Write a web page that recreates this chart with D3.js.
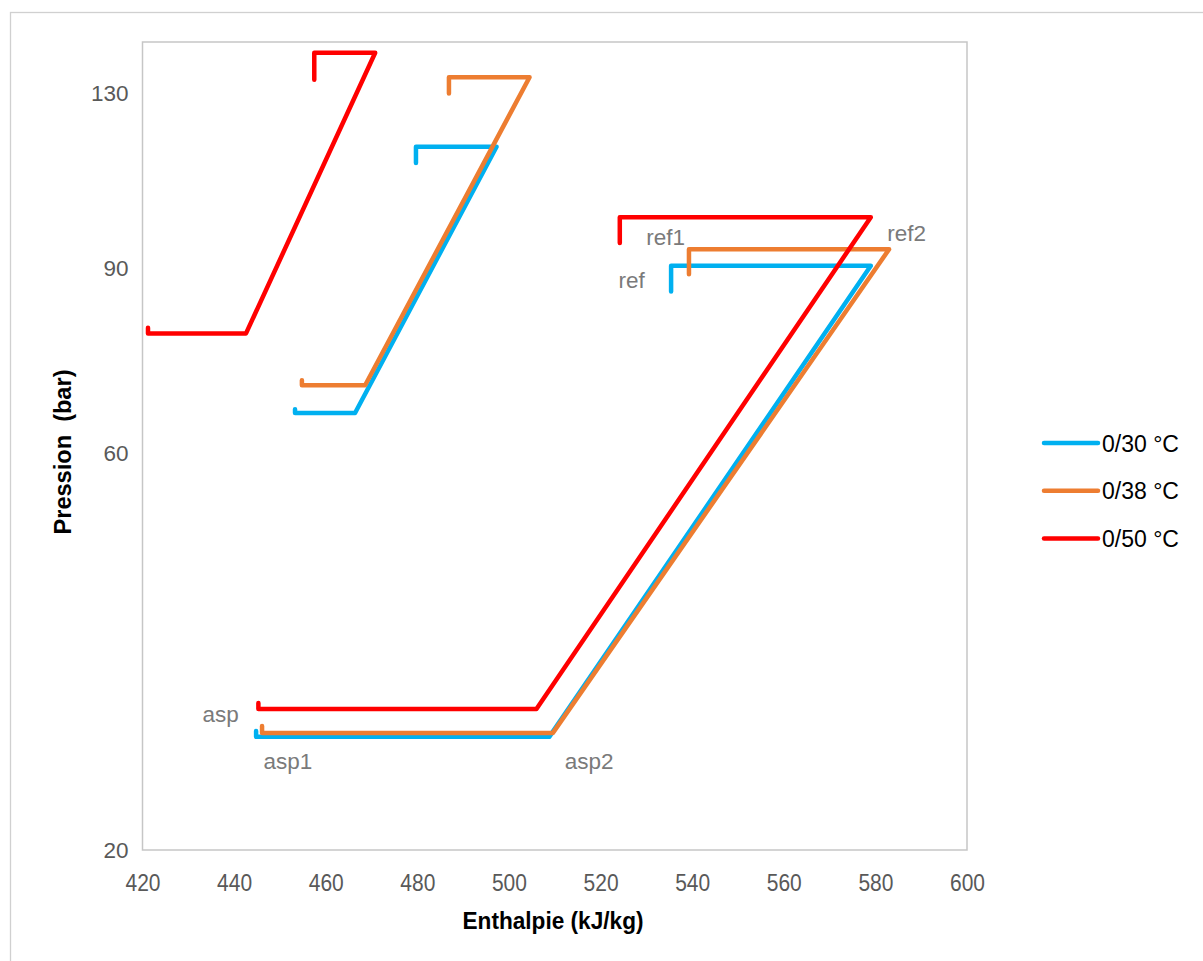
<!DOCTYPE html>
<html>
<head>
<meta charset="utf-8">
<script src="https://cdn.jsdelivr.net/npm/d3@7"></script>
<style>
  html, body { margin: 0; padding: 0; background: #ffffff; }
  svg { display: block; }
</style>
</head>
<body>
<svg id="chart" width="1203" height="961"></svg>
<script>
// ---------------- DATA ----------------
const seriesNames = ["0/30 °C", "0/38 °C", "0/50 °C"];
const seriesColors = ["#00B0F0", "#ED7D31", "#FF0000"];

// Each series: two polylines, points as [enthalpie kJ/kg, pression bar]
const blueUpper  = [[479.7,114.0],[479.7,117.7],[497.3,117.7],[466.4,66.5],[453.3,66.5],[453.3,67.1]];
const blueLower  = [[535.4,86.2],[535.4,90.5],[579.0,90.5],[508.8,31.4],[444.8,31.4],[444.8,32.0]];
const orangeUpper = [[486.9,129.9],[486.9,133.6],[504.5,133.6],[468.6,71.0],[454.8,71.0],[454.8,71.8]];
const orangeLower = [[539.3,89.0],[539.3,94.3],[583.0,94.3],[509.6,31.8],[446.1,31.8],[446.1,32.5]];
const redUpper   = [[457.5,133.0],[457.5,139.2],[470.8,139.2],[442.6,79.4],[421.2,79.4],[421.2,80.3]];
const redLower   = [[524.2,95.7],[524.2,101.6],[579.0,101.6],[506.0,34.2],[445.3,34.2],[445.3,34.8]];

const seriesPaths = [
  [blueUpper, blueLower],
  [orangeUpper, orangeLower],
  [redUpper, redLower]
];

// Point labels: text, enthalpie, pression (label anchor)
const labelTexts = ["ref", "ref1", "ref2", "asp", "asp1", "asp2"];
const labelH     = [523.9, 530.0, 582.6, 433.1, 446.4, 512.2];
const labelP     = [86.8, 95.3, 96.2, 32.9, 28.2, 28.2];

const xTicks = [420, 440, 460, 480, 500, 520, 540, 560, 580, 600];
const yTicks = [20, 60, 90, 130];

const xTitle = "Enthalpie (kJ/kg)";
const yTitle = "Pression\u00A0\u00A0(bar)";

// ---------------- LAYOUT ----------------
const svg = d3.select("#chart");
const plot = { left: 142.5, top: 42, right: 967, bottom: 850 };
const H = plot.bottom - plot.top;

const x = d3.scaleLinear().domain([420, 600]).range([plot.left, plot.right]);
// value axis with unevenly spaced labelled values
const y = d3.scaleLinear()
  .domain(yTicks)
  .range([plot.bottom, plot.bottom - H * 0.4913, plot.bottom - H * 0.7203, plot.bottom - H * 0.9369]);

// outer chart border
svg.append("rect")
  .attr("x", 10.5).attr("y", 12.5)
  .attr("width", 1300).attr("height", 1100)
  .attr("fill", "#ffffff")
  .attr("stroke", "#D0D0D0").attr("stroke-width", 1.3);

// plot area border
svg.append("rect")
  .attr("x", plot.left).attr("y", plot.top)
  .attr("width", plot.right - plot.left).attr("height", plot.bottom - plot.top)
  .attr("fill", "none")
  .attr("stroke", "#C6C6C6").attr("stroke-width", 1.5);

// axes (labels only, no tick marks or domain line)
const xAxis = svg.append("g")
  .attr("transform", `translate(0,${plot.bottom})`)
  .call(d3.axisBottom(x).tickValues(xTicks).tickSize(0).tickPadding(24).tickFormat(d3.format("d")));
xAxis.select(".domain").remove();
xAxis.selectAll("text")
  .attr("fill", "#595959")
  .attr("textLength", 35).attr("lengthAdjust", "spacingAndGlyphs")
  .style("font-family", "'Liberation Sans', Arial, sans-serif")
  .style("font-size", "24px");

const yAxis = svg.append("g")
  .attr("transform", `translate(${plot.left},0)`)
  .call(d3.axisLeft(y).tickValues(yTicks).tickSize(0).tickPadding(14).tickFormat(d3.format("d")));
yAxis.select(".domain").remove();
yAxis.selectAll("text")
  .attr("fill", "#595959")
  .style("font-family", "'Liberation Sans', Arial, sans-serif")
  .style("font-size", "22.5px");

// axis titles
svg.append("text")
  .attr("x", 553).attr("y", 929)
  .attr("text-anchor", "middle")
  .attr("textLength", 181).attr("lengthAdjust", "spacingAndGlyphs")
  .style("font-family", "'Liberation Sans', Arial, sans-serif")
  .style("font-weight", "bold")
  .style("font-size", "23px")
  .attr("fill", "#000000")
  .text(xTitle);

svg.append("text")
  .attr("transform", "translate(71,452) rotate(-90)")
  .attr("text-anchor", "middle")
  .attr("textLength", 165).attr("lengthAdjust", "spacingAndGlyphs")
  .style("font-family", "'Liberation Sans', Arial, sans-serif")
  .style("font-weight", "bold")
  .style("font-size", "23px")
  .attr("fill", "#000000")
  .text(yTitle);

// series lines
const line = d3.line().x(d => x(d[0])).y(d => y(d[1]));
seriesPaths.forEach((paths, i) => {
  const g = svg.append("g");
  paths.forEach(pts => {
    g.append("path")
      .attr("d", line(pts))
      .attr("fill", "none")
      .attr("stroke", seriesColors[i])
      .attr("stroke-width", 4.5)
      .attr("stroke-linejoin", "round")
      .attr("stroke-linecap", "round");
  });
});

// point labels
svg.append("g").selectAll("text")
  .data(labelTexts)
  .join("text")
  .attr("x", (d, i) => x(labelH[i]))
  .attr("y", (d, i) => y(labelP[i]))
  .attr("fill", "#7A7A7A")
  .style("font-family", "'Liberation Sans', Arial, sans-serif")
  .style("font-size", "22.5px")
  .text(d => d);

// legend
const legend = svg.append("g");
seriesNames.forEach((name, i) => {
  const ly = 443 + i * 47.7;
  legend.append("line")
    .attr("x1", 1044).attr("x2", 1098)
    .attr("y1", ly).attr("y2", ly)
    .attr("stroke", seriesColors[i])
    .attr("stroke-width", 4.5)
    .attr("stroke-linecap", "round");
  legend.append("text")
    .attr("x", 1102).attr("y", ly + 8.5)
    .attr("fill", "#000000")
    .style("font-family", "'Liberation Sans', Arial, sans-serif")
    .style("font-size", "23px")
    .text(name);
});
</script>
</body>
</html>
